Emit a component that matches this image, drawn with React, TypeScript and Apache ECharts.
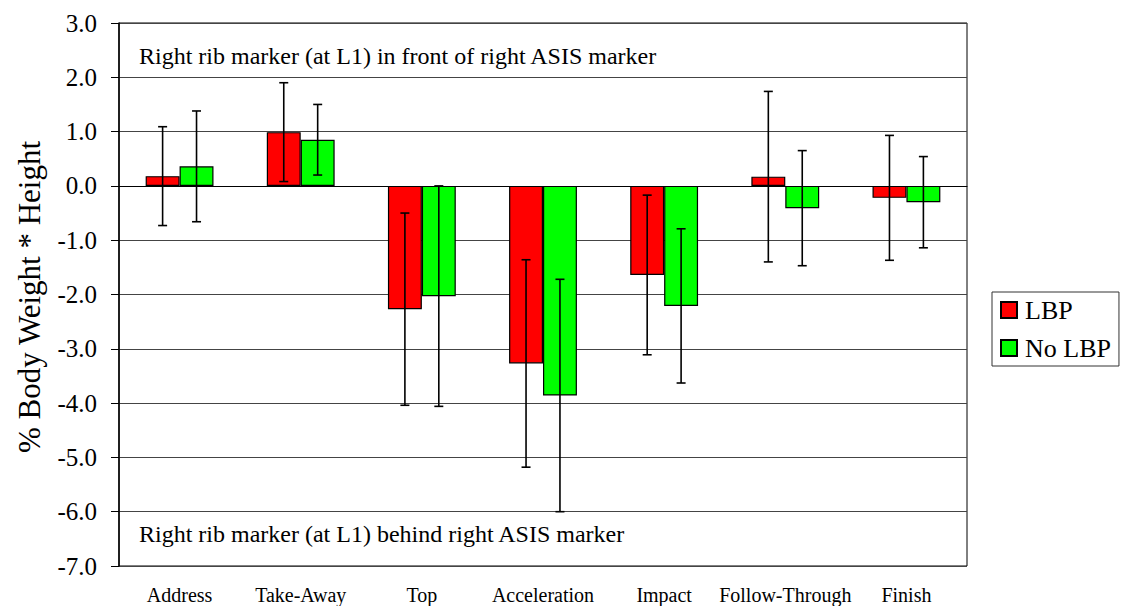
import React, { useEffect, useRef } from "react";
import * as echarts from "echarts";

const categories = ["Address", "Take-Away", "Top", "Acceleration", "Impact", "Follow-Through", "Finish"];
const lbpMean = [0.18, 0.99, -2.27, -3.27, -1.64, 0.17, -0.22];
const lbpErr = [0.91, 0.91, 1.77, 1.91, 1.47, 1.57, 1.15];
const noLbpMean = [0.36, 0.85, -2.03, -3.86, -2.21, -0.41, -0.3];
const noLbpErr = [1.02, 0.65, 2.03, 2.14, 1.42, 1.06, 0.84];
const seriesNames = ["LBP", "No LBP"];
const yTitle = "% Body Weight * Height";
const topNote = "Right rib marker (at L1) in front of right ASIS marker";
const bottomNote = "Right rib marker (at L1) behind right ASIS marker";

const FONT = "Liberation Serif";

function errorSeries(means: number[], errs: number[], sign: number) {
  return {
    type: "custom",
    z: 10,
    silent: true,
    data: means.map((m, i) => [i, m, errs[i]]),
    encode: { x: 0, y: 1 },
    renderItem: (params: any, api: any) => {
      const xi = api.value(0);
      const m = api.value(1);
      const e = api.value(2);
      const band = api.size([1, 0])[0];
      const off = band * 0.14 * sign;
      const top = api.coord([xi, m + e]);
      const bot = api.coord([xi, m - e]);
      const x = top[0] + off;
      const cap = 4.5;
      const style = { stroke: "#000", lineWidth: 1.6 };
      return {
        type: "group",
        children: [
          { type: "line", shape: { x1: x, y1: top[1], x2: x, y2: bot[1] }, style },
          { type: "line", shape: { x1: x - cap, y1: top[1], x2: x + cap, y2: top[1] }, style },
          { type: "line", shape: { x1: x - cap, y1: bot[1], x2: x + cap, y2: bot[1] }, style },
        ],
      };
    },
  };
}

export default function App() {
  const ref = useRef<HTMLDivElement>(null);
  useEffect(() => {
    if (!ref.current) return;
    const chart = echarts.init(ref.current, null, { renderer: "svg" });
    chart.setOption({
      animation: false,
      backgroundColor: "#fff",
      textStyle: { fontFamily: FONT, color: "#000" },
      grid: {
        left: 119,
        top: 23,
        width: 848,
        height: 543,
        show: true,
        borderColor: "#000",
        borderWidth: 1,
        containLabel: false,
      },
      legend: {
        data: seriesNames.map((n) => ({ name: n, icon: "rect" })),
        orient: "vertical",
        left: 992,
        top: 292,
        padding: [5, 8, 5, 8],
        itemGap: 12,
        itemWidth: 16,
        itemHeight: 16,
        borderColor: "#333",
        borderWidth: 1,
        textStyle: { fontFamily: FONT, fontSize: 26, color: "#000", padding: [0, 0, 0, 3] },
      },
      xAxis: {
        type: "category",
        data: categories,
        axisLine: { show: true, lineStyle: { color: "#000" } },
        axisTick: { show: false },
        axisLabel: { fontFamily: FONT, fontSize: 20, color: "#000", margin: 19, interval: 0 },
        splitLine: { show: false },
      },
      yAxis: {
        type: "value",
        min: -7,
        max: 3,
        interval: 1,
        axisLine: { show: true, lineStyle: { color: "#000", width: 1.5 } },
        axisTick: { show: true, length: 8, lineStyle: { color: "#000" } },
        axisLabel: {
          fontFamily: FONT,
          fontSize: 25,
          color: "#000",
          margin: 22,
          formatter: (v: number) => v.toFixed(1),
        },
        splitLine: { show: true, lineStyle: { color: "#444", width: 1 } },
      },
      graphic: [
        {
          type: "text",
          x: 29,
          y: 297,
          rotation: Math.PI / 2,
          style: {
            text: yTitle,
            fontFamily: FONT,
            fontSize: 31,
            fill: "#000",
            align: "center",
            verticalAlign: "middle",
          },
        },
        {
          type: "text",
          x: 139,
          y: 56,
          style: { text: topNote, fontFamily: FONT, fontSize: 24, fill: "#000", align: "left", verticalAlign: "middle" },
        },
        {
          type: "text",
          x: 139,
          y: 534,
          style: { text: bottomNote, fontFamily: FONT, fontSize: 24, fill: "#000", align: "left", verticalAlign: "middle" },
        },
      ],
      series: [
        {
          name: seriesNames[0],
          type: "bar",
          data: lbpMean,
          barWidth: "28%",
          barGap: "0%",
          itemStyle: { color: "#ff0000", borderColor: "#000", borderWidth: 1.2 },
        },
        {
          name: seriesNames[1],
          type: "bar",
          data: noLbpMean,
          barWidth: "28%",
          barGap: "0%",
          itemStyle: { color: "#00ff00", borderColor: "#000", borderWidth: 1.2 },
        },
        errorSeries(lbpMean, lbpErr, -1),
        errorSeries(noLbpMean, noLbpErr, 1),
      ],
    });
    return () => chart.dispose();
  }, []);
  return (
    <div
      ref={ref}
      style={{ position: "fixed", left: 0, top: 0, width: 1122, height: 606, background: "#fff" }}
    />
  );
}
